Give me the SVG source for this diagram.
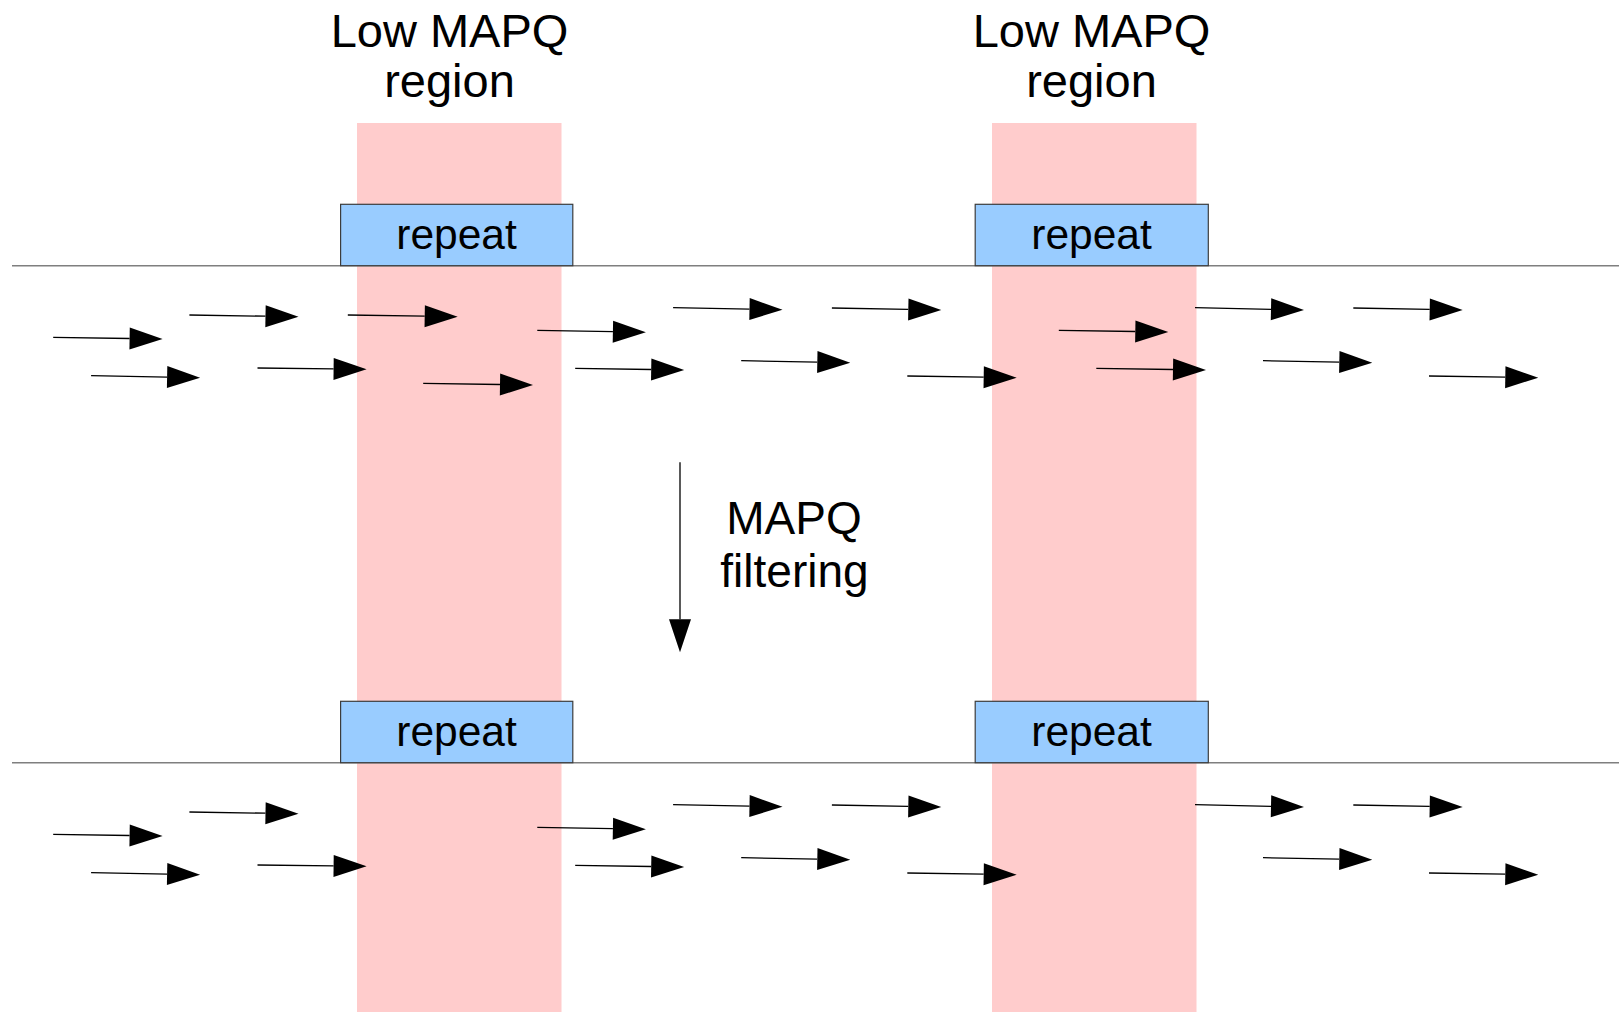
<svg xmlns="http://www.w3.org/2000/svg" width="1619" height="1012" viewBox="0 0 1619 1012">
<style>
.band{fill:#ffcccc;stroke:none}
.axis{stroke:#7f7f7f;stroke-width:1.5;fill:none}
.box{fill:#99ccff;stroke:#3c3c3c;stroke-width:1.2}
.lbl{font-family:"Liberation Sans",Arial,sans-serif;fill:#000;text-anchor:middle}
.read{stroke:#000;stroke-width:1.3;fill:none;marker-end:url(#head)}
</style>
<defs>
<marker id="head" markerUnits="userSpaceOnUse" markerWidth="34" markerHeight="24" viewBox="0 -12 34 24" refX="0" refY="0" orient="auto" overflow="visible">
<path d="M0,-11 L33,0 L0,11 Z" fill="#000"/>
</marker>
</defs>
<rect width="1619" height="1012" fill="#fff"/>
<g id="band1"><rect class="band" x="357" y="123" width="204.5" height="889"/></g>
<g id="band2"><rect class="band" x="992" y="123" width="204.5" height="889"/></g>
<g id="title1"><text class="lbl" font-size="47" x="449.5" y="47">Low MAPQ</text><text class="lbl" font-size="47" x="449.5" y="97">region</text></g>
<g id="title2"><text class="lbl" font-size="47" x="1091.5" y="47">Low MAPQ</text><text class="lbl" font-size="47" x="1091.5" y="97">region</text></g>
<g id="genome-top"><line class="axis" x1="12" y1="265.7" x2="1619" y2="265.7"/></g>
<g id="genome-bottom"><line class="axis" x1="12" y1="762.7" x2="1619" y2="762.7"/></g>
<g id="repeat1-top"><rect class="box" x="340.6" y="204.3" width="232.2" height="61.4"/><text class="lbl" font-size="42.5" x="456.5" y="249">repeat</text></g>
<g id="repeat2-top"><rect class="box" x="975.2" y="204.3" width="233.1" height="61.4"/><text class="lbl" font-size="42.5" x="1091.5" y="249">repeat</text></g>
<g id="repeat1-bottom"><rect class="box" x="340.6" y="701.3" width="232.2" height="61.4"/><text class="lbl" font-size="42.5" x="456.5" y="746">repeat</text></g>
<g id="repeat2-bottom"><rect class="box" x="975.2" y="701.3" width="233.1" height="61.4"/><text class="lbl" font-size="42.5" x="1091.5" y="746">repeat</text></g>
<g id="filter-label"><text class="lbl" font-size="46" x="794" y="533.5">MAPQ</text><text class="lbl" font-size="46" x="794.5" y="586.7">filtering</text></g>
<g id="connectors">
<g id="reads-top">
<line class="read" x1="53.2" y1="337.3" x2="129.6" y2="338.5"/>
<line class="read" x1="91.1" y1="375.7" x2="167.1" y2="377.1"/>
<line class="read" x1="189.4" y1="315" x2="265.5" y2="316.2"/>
<line class="read" x1="257.5" y1="368" x2="333.6" y2="368.9"/>
<line class="read" x1="347.8" y1="315" x2="424.7" y2="316.2"/>
<line class="read" x1="423.2" y1="383.3" x2="500" y2="384.5"/>
<line class="read" x1="537.3" y1="330.3" x2="612.9" y2="331.7"/>
<line class="read" x1="575.2" y1="368.3" x2="651.2" y2="369.5"/>
<line class="read" x1="673.1" y1="307.7" x2="749.5" y2="309.1"/>
<line class="read" x1="831.9" y1="308" x2="908.3" y2="309.4"/>
<line class="read" x1="741.2" y1="360.7" x2="817.3" y2="362.1"/>
<line class="read" x1="907.3" y1="376" x2="983.7" y2="377.2"/>
<line class="read" x1="1058.8" y1="330.3" x2="1135.3" y2="331.5"/>
<line class="read" x1="1096.3" y1="368.3" x2="1173" y2="369.5"/>
<line class="read" x1="1195" y1="307.7" x2="1271" y2="309.3"/>
<line class="read" x1="1353.3" y1="308" x2="1429.7" y2="309.4"/>
<line class="read" x1="1263" y1="360.7" x2="1339.3" y2="362.1"/>
<line class="read" x1="1429" y1="376" x2="1505.3" y2="377.2"/>
</g>
<g id="reads-bottom">
<line class="read" x1="53.2" y1="834.3" x2="129.6" y2="835.5"/>
<line class="read" x1="91.1" y1="872.7" x2="167.1" y2="874.1"/>
<line class="read" x1="189.4" y1="812" x2="265.5" y2="813.2"/>
<line class="read" x1="257.5" y1="865" x2="333.6" y2="865.9"/>
<line class="read" x1="537.3" y1="827.3" x2="612.9" y2="828.7"/>
<line class="read" x1="575.2" y1="865.3" x2="651.2" y2="866.5"/>
<line class="read" x1="673.1" y1="804.7" x2="749.5" y2="806.1"/>
<line class="read" x1="831.9" y1="805" x2="908.3" y2="806.4"/>
<line class="read" x1="741.2" y1="857.7" x2="817.3" y2="859.1"/>
<line class="read" x1="907.3" y1="873" x2="983.7" y2="874.2"/>
<line class="read" x1="1195" y1="804.7" x2="1271" y2="806.3"/>
<line class="read" x1="1353.3" y1="805" x2="1429.7" y2="806.4"/>
<line class="read" x1="1263" y1="857.7" x2="1339.3" y2="859.1"/>
<line class="read" x1="1429" y1="873" x2="1505.3" y2="874.2"/>
</g>
<line id="filter-arrow" class="read" x1="680" y1="462.3" x2="680" y2="619.3"/>
</g>
</svg>
